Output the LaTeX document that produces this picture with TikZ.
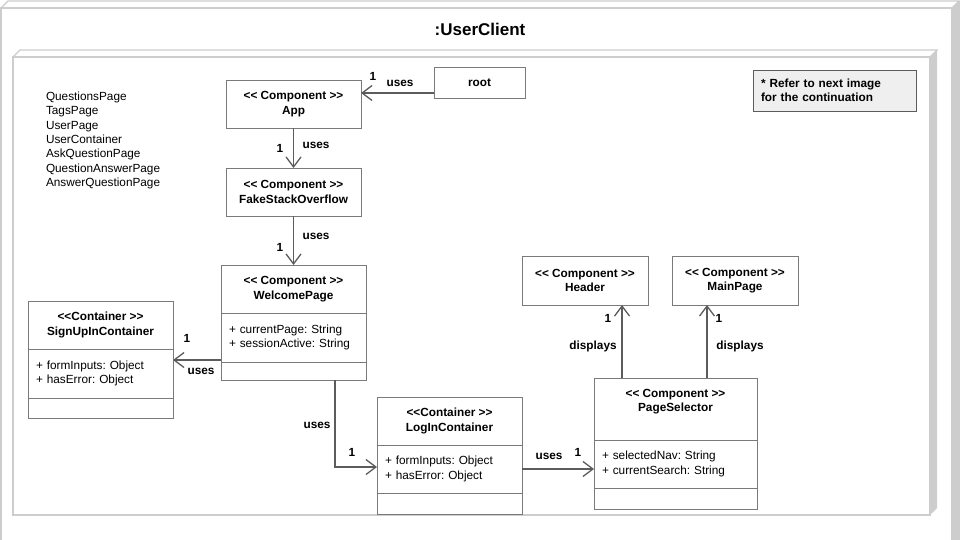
\documentclass[tikz,border=0pt]{standalone}
\usepackage{fontspec}
\setmainfont{Liberation Sans}
\usetikzlibrary{positioning,arrows.meta}
\definecolor{boxgray}{HTML}{7A7A7A}
\definecolor{linegray}{HTML}{5C5C5C}
\definecolor{framegray}{HTML}{CDCDCD}
\definecolor{notefill}{HTML}{EFEFEF}
\newcommand{\dl}{<\kern0pt<}
\newcommand{\dr}{>\kern0pt>}
\newcommand\comp[1]{\dl{} Component \dr\\#1}
\newcommand\cont[1]{\dl Container \dr\\#1}
\frenchspacing

\begin{document}
\begin{tikzpicture}[
    x=1pt, y=-1pt,
    every node/.style={inner sep=0pt, outer sep=0pt,
        font=\fontsize{11.8}{14.3}\selectfont},
    head/.style={rectangle, draw=boxgray, line width=0.9pt, align=center,
        font=\fontsize{11.8}{14.3}\selectfont\bfseries, minimum width=#1},
    attr/.style={rectangle, draw=boxgray, line width=0.9pt, align=left,
        inner xsep=8pt, text width=#1},
    blank/.style={rectangle, draw=boxgray, line width=0.9pt, minimum width=#1},
    uses/.style={draw=linegray, line width=1.3pt,
        -{Straight Barb[length=10pt, width=15pt]}},
    lbl/.style={font=\fontsize{11.8}{14.3}\selectfont\bfseries}
    ]
\useasboundingbox (0,0) rectangle (960,540);

%outer frame
\draw[framegray, line width=1.2pt] (1,548) -- (1,8) -- (952,8) -- (952,548);
\draw[framegray, line width=1.2pt] (1,8) -- (8,1) -- (959,1) -- (952,8);
\fill[framegray] (952,8) -- (959,1) -- (960,1) -- (960,548) -- (952,548) -- cycle;
%inner frame
\draw[framegray, line width=1.2pt] (13,515) -- (13,57) -- (930,57) -- (930,515) -- cycle;
\draw[framegray, line width=1.2pt] (13,57) -- (20,50) -- (937,50) -- (930,57);
\fill[framegray] (930,57) -- (937,50) -- (937,508) -- (930,515) -- cycle;

\node[font=\fontsize{17}{20}\selectfont\bfseries] (title) at (480,29) {:UserClient};

\node[anchor=north west, align=left] (pages) at (46,92) {
    QuestionsPage\\TagsPage\\UserPage\\UserContainer\\
    AskQuestionPage\\QuestionAnswerPage\\AnswerQuestionPage};

\node[rectangle, draw=boxgray, line width=0.9pt, lbl, minimum width=91pt,
    minimum height=31pt, anchor=north west] (root) at (434,67) {root};

\node[head=135pt, minimum height=48pt, anchor=north west] (app) at (226,80)
    {\comp{App}};
\node[head=135pt, minimum height=48pt, below=40pt of app] (fso)
    {\comp{FakeStackOverflow}};

%WelcomePage
\node[head=145pt, minimum height=48pt, below=49pt of fso] (wpT)
    {\comp{WelcomePage}};
\node[attr=129pt, minimum height=49pt, below=0pt of wpT] (wpA)
    {+ currentPage: String\\+ sessionActive: String};
\node[blank=145pt, minimum height=18pt, below=0pt of wpA] (wpE) {};

%SignUpInContainer
\node[head=145pt, minimum height=48pt, anchor=north west] (suT) at (28,301)
    {\cont{SignUpInContainer}};
\node[attr=129pt, minimum height=49pt, below=0pt of suT] (suA)
    {+ formInputs: Object\\+ hasError: Object};
\node[blank=145pt, minimum height=20pt, below=0pt of suA] (suE) {};

%LogInContainer
\node[head=145pt, minimum height=48pt, anchor=north west] (liT) at (377,397)
    {\cont{LogInContainer}};
\node[attr=129pt, minimum height=48pt, below=0pt of liT] (liA)
    {+ formInputs: Object\\+ hasError: Object};
\node[blank=145pt, minimum height=21pt, below=0pt of liA] (liE) {};

%PageSelector
\node[head=163pt, minimum height=62pt, anchor=north west] (psT) at (594,378)
    {\comp{PageSelector}\\[-2pt]\strut};
\node[attr=147pt, minimum height=48pt, below=0pt of psT] (psA)
    {+ selectedNav: String\\+ currentSearch: String};
\node[blank=163pt, minimum height=21pt, below=0pt of psA] (psE) {};

\node[head=126pt, minimum height=49pt, anchor=north west] (hd) at (522,256)
    {\comp{Header}};
\node[head=126pt, minimum height=49pt, anchor=north west] (mp) at (672,256)
    {\comp{MainPage}};

\node[rectangle, draw=linegray, fill=notefill, line width=0.9pt, lbl,
    align=left, text width=147pt, inner xsep=8pt, minimum height=41pt,
    anchor=north west] (note) at (753,70)
    {* Refer to next image\\for the continuation};

%connectors
\coordinate (rootout) at ([yshift=-10.5pt]root.west);
\draw[uses] (rootout) -- (rootout -| app.east);
\draw[uses] (app) -- (fso);
\draw[uses] (fso) -- (wpT);
\coordinate (wpout) at ([yshift=2pt]wpA.south west);
\draw[uses] (wpout) -- (wpout -| suA.east);
\coordinate (wpdown) at ([xshift=41.5pt]wpE.south);
\coordinate (liin) at ([yshift=2pt]liA.west);
\draw[uses] (wpdown) |- (liin);
\draw[uses] (liA.east) -- (liA.east -| psA.west);
\coordinate (hdin) at ([xshift=-26pt]hd.south east);
\draw[uses] (hdin |- psT.north) -- (hdin);
\coordinate (mpin) at ([xshift=-28pt]mp.south);
\draw[uses] (mpin |- psT.north) -- (mpin);

%labels
\node[lbl] (m1) at (373,76) {1};
\node[lbl] (u1) at (400,83) {uses};
\node[lbl] (m2) at (280,148) {1};
\node[lbl] (u2) at (316,145) {uses};
\node[lbl] (m3) at (280,247) {1};
\node[lbl] (u3) at (316,236) {uses};
\node[lbl] (m4) at (187,338) {1};
\node[lbl] (u4) at (201,371) {uses};
\node[lbl] (u5) at (317,425) {uses};
\node[lbl] (m5) at (352,452) {1};
\node[lbl] (u6) at (549,456) {uses};
\node[lbl] (m6) at (578,452) {1};
\node[lbl] (m7) at (608,318) {1};
\node[lbl] (d1) at (593,346) {displays};
\node[lbl] (m8) at (719,318) {1};
\node[lbl] (d2) at (740,346) {displays};
\end{tikzpicture}
\end{document}
